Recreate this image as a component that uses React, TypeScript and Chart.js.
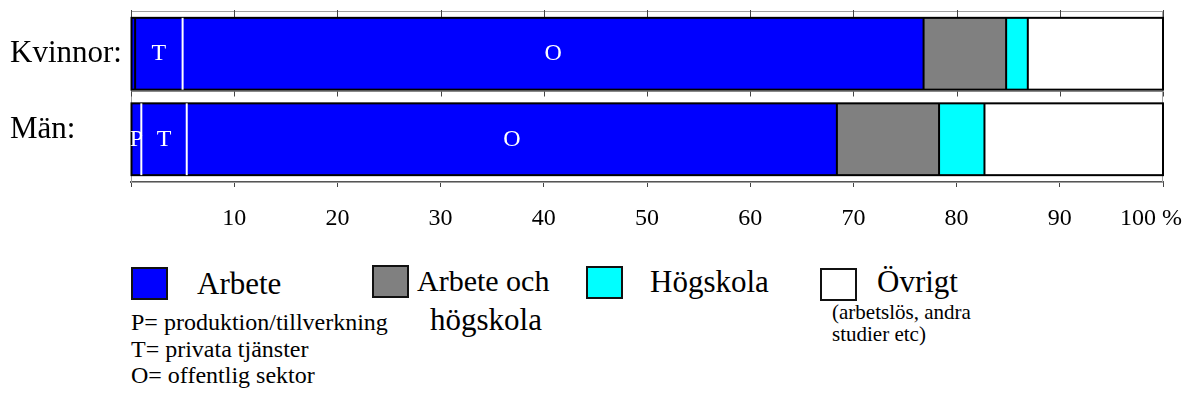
import React, { useEffect, useRef } from 'react';
import { Chart, registerables } from 'chart.js';

Chart.register(...registerables);

// ---- data ----
const categories = ['Kvinnor:', 'Män:'];
const produktion = [0.4, 1.0];
const privataTjanster = [4.6, 4.4];
const offentligSektor = [71.8, 63.0];
const arbeteOchHogskola = [8.0, 9.9];
const hogskola = [2.1, 4.4];
const ovrigt = [13.1, 17.3];
const segmentLetters = ['P', 'T', 'O', '', '', ''];
const tickLabels = ['', '10', '20', '30', '40', '50', '60', '70', '80', '90', '100 %'];

const BLUE = '#0000FF';
const FONT = '"Liberation Serif", "Times New Roman", serif';

const series = [
  { label: 'P', data: produktion, color: BLUE, work: true },
  { label: 'T', data: privataTjanster, color: BLUE, work: true },
  { label: 'O', data: offentligSektor, color: BLUE, work: true },
  { label: 'Arbete och högskola', data: arbeteOchHogskola, color: '#808080', work: false },
  { label: 'Högskola', data: hogskola, color: '#00FFFF', work: false },
  { label: 'Övrigt', data: ovrigt, color: '#FFFFFF', work: false },
];

const line = (ctx: CanvasRenderingContext2D, x1: number, y1: number, x2: number, y2: number) => {
  ctx.beginPath();
  ctx.moveTo(x1, y1);
  ctx.lineTo(x2, y2);
  ctx.stroke();
};

const framePlugin = {
  id: 'frame',
  beforeDatasetsDraw(chart: any) {
    const { ctx, chartArea: a, scales } = chart;
    const x = scales.x;
    ctx.save();
    ctx.lineWidth = 1;
    ctx.strokeStyle = '#a0a0a0';
    ctx.strokeRect(a.left + 0.5, a.top + 0.5, a.right - a.left - 1, a.bottom - a.top);
    ctx.strokeStyle = '#444';
    x.ticks.forEach((t: any) => {
      const px = Math.round(x.getPixelForValue(t.value)) + 0.5;
      line(ctx, px, a.top - 1, px, a.top + 7);
    });
    const el = chart.getDatasetMeta(0).data[0];
    if (el) {
      const yb = Math.round(el.y + el.height / 2) + 1.5;
      ctx.strokeStyle = '#888';
      line(ctx, a.left, yb, a.right, yb);
      ctx.strokeStyle = '#444';
      x.ticks.forEach((t: any) => {
        const px = Math.round(x.getPixelForValue(t.value)) + 0.5;
        line(ctx, px, yb, px, yb + 5);
      });
    }
    ctx.restore();
  },
  afterDatasetsDraw(chart: any) {
    const { ctx } = chart;
    const metas = series.map((_, i) => chart.getDatasetMeta(i));
    ctx.save();
    categories.forEach((_, j) => {
      const first = metas[0].data[j];
      const last = metas[metas.length - 1].data[j];
      if (!first || !last) return;
      const top = first.y - first.height / 2;
      const bottom = first.y + first.height / 2;
      ctx.strokeStyle = '#000';
      ctx.lineWidth = 2;
      ctx.strokeRect(first.base, top, last.x - first.base, bottom - top);
      for (let i = 0; i < metas.length - 1; i++) {
        const el = metas[i].data[j];
        const white = series[i].work && series[i + 1].work && series[i].data[j] >= 1;
        ctx.strokeStyle = white ? '#fff' : '#000';
        ctx.lineWidth = 2;
        line(ctx, el.x, top, el.x, bottom);
      }
      ctx.fillStyle = '#fff';
      ctx.font = `24px ${FONT}`;
      ctx.textAlign = 'center';
      ctx.textBaseline = 'middle';
      for (let i = 0; i < metas.length; i++) {
        const el = metas[i].data[j];
        const letter = segmentLetters[i];
        if (letter && Math.abs(el.x - el.base) >= 8) {
          ctx.fillText(letter, (el.x + el.base) / 2, el.y);
        }
      }
    });
    ctx.restore();
  },
};

function ChartCanvas() {
  const ref = useRef<HTMLCanvasElement | null>(null);
  useEffect(() => {
    if (!ref.current) return;
    const chart = new Chart(ref.current, {
      type: 'bar',
      data: {
        labels: categories,
        datasets: series.map((s) => ({
          label: s.label,
          data: s.data,
          backgroundColor: s.color,
          borderWidth: 0,
          categoryPercentage: 1,
          barPercentage: 0.84,
        })),
      },
      options: {
        indexAxis: 'y',
        responsive: false,
        animation: false,
        events: [],
        layout: { padding: { top: 11, right: 23, left: 10, bottom: 0 } },
        plugins: { legend: { display: false }, tooltip: { enabled: false } },
        scales: {
          x: {
            stacked: true,
            min: 0,
            max: 100,
            ticks: {
              stepSize: 10,
              autoSkip: false,
              maxRotation: 0,
              color: '#000',
              padding: 17,
              font: { family: FONT, size: 24 },
              callback: (_v: any, i: number) => {
                const l = tickLabels[i] ?? '';
                return i === tickLabels.length - 1 ? l + '    ' : l;
              },
            },
            grid: { drawOnChartArea: false, drawTicks: true, tickLength: 5, color: '#444' },
            border: { display: true, color: '#555', width: 2 },
            afterFit: (s: any) => {
              s.height = 58;
              s.paddingLeft = 0;
              s.paddingRight = 0;
            },
          },
          y: {
            stacked: true,
            ticks: {
              color: '#000',
              padding: 7,
              crossAlign: 'far',
              font: { family: FONT, size: 31, lineHeight: 0.6 },
              callback: (_v: any, i: number) => (i === 0 ? categories[i] : [categories[i], '']),
            },
            grid: { display: false, drawTicks: false },
            border: { display: false },
            afterFit: (s: any) => {
              s.width = 121;
              s.paddingTop = 0;
              s.paddingBottom = 0;
            },
          },
        },
      },
      plugins: [framePlugin],
    });
    return () => chart.destroy();
  }, []);
  return <canvas ref={ref} width={1186} height={240} style={{ width: 1186, height: 240, display: 'block' }} />;
}

const boxStyle = (left: number, top: number, bg: string): React.CSSProperties => ({
  position: 'absolute',
  left,
  top,
  width: 37,
  height: 33,
  boxSizing: 'border-box',
  border: '2px solid #111',
  background: bg,
});

const textStyle = (left: number, top: number, size: number): React.CSSProperties => ({
  position: 'absolute',
  left,
  top,
  fontSize: size,
  lineHeight: 1,
  whiteSpace: 'nowrap',
  color: '#000',
});

export default function App() {
  return (
    <div
      style={{
        position: 'absolute',
        left: 0,
        top: 0,
        width: 1186,
        height: 403,
        background: '#fff',
        overflow: 'hidden',
        fontFamily: FONT,
      }}
    >
      <div style={{ position: 'absolute', left: 0, top: 0 }}>
        <ChartCanvas />
      </div>
      <div style={boxStyle(131, 267, BLUE)} />
      <div style={textStyle(197, 268, 31)}>Arbete</div>
      <div style={boxStyle(372, 265, '#808080')} />
      <div style={textStyle(417, 266, 30)}>Arbete och</div>
      <div style={textStyle(430, 304, 31)}>högskola</div>
      <div style={boxStyle(586, 266, '#00FFFF')} />
      <div style={textStyle(650, 266, 31)}>Högskola</div>
      <div style={boxStyle(820, 268, '#FFFFFF')} />
      <div style={textStyle(877, 266, 31)}>Övrigt</div>
      <div style={textStyle(832, 302, 21)}>(arbetslös, andra</div>
      <div style={textStyle(832, 324, 21)}>studier etc)</div>
      <div style={textStyle(131, 310, 24)}>P= produktion/tillverkning</div>
      <div style={textStyle(131, 337, 24)}>T= privata tjänster</div>
      <div style={textStyle(131, 363, 24)}>O= offentlig sektor</div>
    </div>
  );
}
